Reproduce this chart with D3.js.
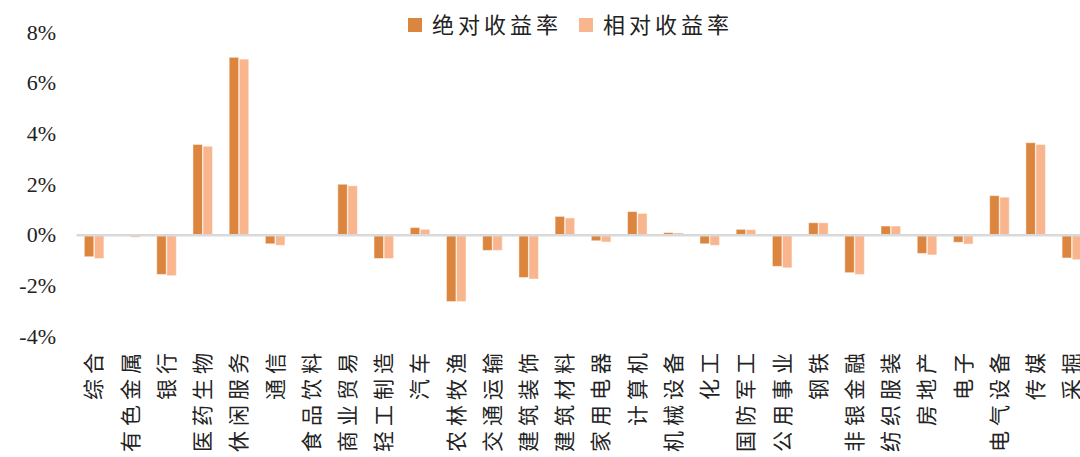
<!DOCTYPE html>
<html>
<head>
<meta charset="utf-8">
<script src="https://cdn.jsdelivr.net/npm/d3@7"></script>
<style>
  body { margin: 0; background: #fff; }
  svg { display: block; }
</style>
</head>
<body>
<svg></svg>
<script>
// chart data (percent)
const categories = ["综合", "有色金属", "银行", "医药生物", "休闲服务", "通信", "食品饮料", "商业贸易",
  "轻工制造", "汽车", "农林牧渔", "交通运输", "建筑装饰", "建筑材料", "家用电器", "计算机",
  "机械设备", "化工", "国防军工", "公用事业", "钢铁", "非银金融", "纺织服装", "房地产",
  "电子", "电气设备", "传媒", "采掘"];
const seriesNames = ["绝对收益率", "相对收益率"];
const absReturn = [-0.87, -0.02, -1.57, 3.56, 7.0, -0.36, -0.02, 1.99,
  -0.94, 0.28, -2.64, -0.62, -1.69, 0.72, -0.24, 0.91,
  0.08, -0.36, 0.21, -1.25, 0.47, -1.5, 0.34, -0.74,
  -0.3, 1.54, 3.63, -0.92];
const relReturn = [-0.94, -0.1, -1.62, 3.49, 6.93, -0.42, -0.03, 1.93,
  -0.94, 0.21, -2.64, -0.62, -1.75, 0.66, -0.29, 0.84,
  0.07, -0.42, 0.2, -1.31, 0.47, -1.57, 0.34, -0.8,
  -0.37, 1.48, 3.56, -0.99];
const yTicks = [-4, -2, 0, 2, 4, 6, 8];
const colors = ["#dc853f", "#f9b68e"];

const width = 1080, height = 457;
const svg = d3.select("svg").attr("width", width).attr("height", height);

// scales
const x = d3.scaleBand().domain(categories).range([76, 1090])
  .paddingInner(0.46).paddingOuter(0.23);
const x1 = d3.scaleBand().domain(seriesNames).range([0, x.bandwidth()]).paddingInner(0.06);
const y = d3.scaleLinear().domain([-4, 8]).range([336, 32]);

// y axis labels only
svg.append("g")
  .attr("transform", "translate(56,0)")
  .call(d3.axisLeft(y).tickValues(yTicks).tickSize(0).tickPadding(0).tickFormat(d => d + "%"))
  .call(g => g.select(".domain").remove())
  .selectAll("text")
    .style("font-family", "'Liberation Serif', serif")
    .style("font-size", "22px")
    .style("fill", "#222");

// bars
const rows = categories.map((c, i) => ({ cat: c, vals: [absReturn[i], relReturn[i]] }));
const groups = svg.append("g").selectAll("g")
  .data(rows)
  .join("g")
    .attr("transform", d => `translate(${x(d.cat)},0)`);

groups.selectAll("rect")
  .data(d => d.vals.map((v, k) => ({ key: seriesNames[k], v: v, k: k })))
  .join("rect")
    .attr("x", d => x1(d.key))
    .attr("width", x1.bandwidth())
    .attr("y", d => y(Math.max(0, d.v)))
    .attr("height", d => Math.abs(y(d.v) - y(0)))
    .attr("fill", d => colors[d.k])
    .attr("stroke", "#fff")
    .attr("stroke-opacity", 0.45)
    .attr("stroke-width", 1);

// zero line
svg.append("g")
  .attr("transform", `translate(0,${y(0)})`)
  .call(d3.axisBottom(x).tickSize(0).tickFormat(""))
  .call(g => g.select(".domain").attr("stroke", "#d9d9d9").attr("stroke-width", 2.5));

// category labels, rotated, hanging from the top
svg.append("g")
  .attr("transform", "translate(0,348)")
  .call(d3.axisBottom(x).tickSize(0))
  .call(g => g.select(".domain").remove())
  .selectAll("text")
    .attr("transform", "rotate(-90)")
    .attr("x", 0)
    .attr("y", 0)
    .attr("dy", "0.35em")
    .attr("text-anchor", "end")
    .style("font-family", "'Noto Sans CJK SC', sans-serif")
    .style("font-size", "21px")
    .style("letter-spacing", "5px")
    .style("fill", "#222");

// legend
const legend = svg.append("g").selectAll("g")
  .data(seriesNames)
  .join("g")
    .attr("transform", (d, i) => `translate(${408 + i * 171},18)`);
legend.append("rect")
  .attr("width", 14).attr("height", 14)
  .attr("fill", (d, i) => colors[i]);
legend.append("text")
  .attr("x", 24).attr("y", 7).attr("dy", "0.35em")
  .style("font-family", "'Noto Sans CJK SC', sans-serif")
  .style("font-size", "22px")
  .style("letter-spacing", "4px")
  .style("fill", "#222")
  .text(d => d);
</script>
</body>
</html>
